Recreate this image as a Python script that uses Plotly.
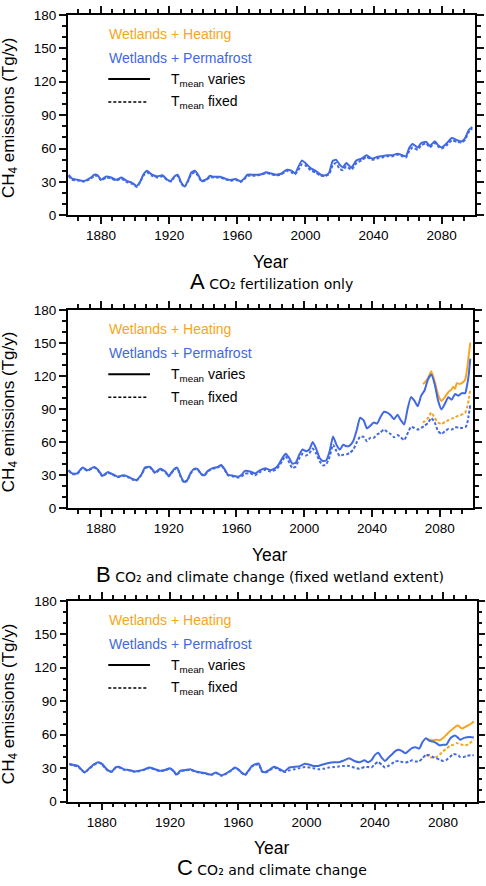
import plotly.graph_objects as go

# ---------------- data ----------------
A_years = [1861,1863,1866,1870,1874,1876,1878,1880,1883,1886,1889,1892,1895,1898,1901,1903,1905,1907,
           1910,1913,1916,1919,1921,1923,1925,1927,1929,1931,1933,1935,1937,1939,1942,1944,1946,1950,
           1953,1956,1959,1962,1964,1966,1970,1974,1977,1980,1983,1986,1989,1992,1994,1996,1998,2000,
           2003,2006,2009,2012,2014,2016,2018,2020,2022,2024,2027,2030,2033,2036,2039,2042,2045,2048,
           2051,2054,2057,2059,2061,2063,2066,2068,2071,2073,2076,2078,2080,2083,2086,2089,2092,2094,
           2096,2098]
A_perm_var = [36.5,33,32,31,34,36.5,36,32,35,34,32,34,31,29.5,26.5,30.5,37,40,
              36.5,35,36,32,31,35,36.5,29.7,26,31,38.5,40,36.5,31,32.6,35.6,34.7,34.7,
              33,31.8,32.6,30.6,33,36.5,36.5,37,38.8,37.6,36.5,37.6,41,40,37.6,44,49.4,47,
              42.4,40,36.5,36,38.5,48.8,50,45.9,43,47,43,49.4,51,54,51,52.4,53.2,54,
              54,55.3,54,53,60.6,64,61,65,66,62.4,66.5,63,61,64.7,69.4,67.6,66.5,70,
              76.8,79.4]
A_perm_fix = [35.5,32,31.5,30.5,33,35.5,35.5,31.5,34,33,31.5,33,30,28.5,25.5,30,36,38.5,
              35.5,34,35,31.5,30.5,34,35.5,29,25.5,30.5,37,38.5,35.5,30.5,32,34.5,34,34,
              32.5,31,32,30,32.5,35.5,35.5,36.5,38,37,36,37,40,38.5,37,41,46,45,
              40.5,38.5,35.5,35.5,37,45,47,42,40.5,44,41,47,49.5,52.5,50,51,52,53,
              53,54.5,53,52,58,61,59,63,64.5,61,65,62,60,63,67.5,66,65.5,68.5,
              75,78]

B_years = [1861,1863,1866,1869,1872,1876,1878,1881,1884,1887,1890,1893,1896,1899,1901,1904,1906,1909,
           1912,1915,1918,1920,1923,1925,1927,1929,1931,1933,1935,1937,1939,1941,1943,1946,1949,1951,
           1953,1955,1958,1961,1963,1965,1968,1971,1974,1977,1980,1983,1985,1987,1989,1991,1993,1995,
           1997,1999,2001,2003,2005,2007,2009,2011,2013,2015,2017,2019,2021,2023,2025,2027,2029,2031,
           2033,2035,2037,2039,2041,2043,2045,2047,2049,2051,2053,2055,2057,2059,2061,2063,2065,2067,
           2069,2071,2073,2075,2077,2079,2081,2083,2085,2087,2089,2091,2093,2095,2096,2097,2098]
B_perm_var = [34.7,31.7,31.7,37,34.7,37.6,35.6,29.6,32.9,31,28.8,30,28.8,26.4,25.8,31,37,37.6,
              32.6,35.9,33.5,29.4,35.3,37,29.6,24,25.8,32.3,35.9,35.9,31.7,30,34,36.5,37.6,39.4,
              35.6,30.5,29.6,28.8,30.5,34,33.5,31.7,34.7,36.5,34.7,36.5,40,45.4,49.5,46,40.6,41.5,
              48.3,53.4,51.9,53.4,60.2,54.3,46,43,43.6,51.9,65.2,57.8,53.4,57.8,56.3,57.2,61.4,71.2,
              82.2,80,72.6,75,78,77,83,87.5,86.9,84.5,81,85,80,76.2,90.4,101,97.8,92.8,
              102.3,107,117,121.5,112.7,97.8,89.8,94.9,100.8,98.7,103.8,102.3,104.6,104.6,111,120,136]
B_perm_fix = [34.2,31.2,31.2,36.5,34.2,37,35,29,32.4,30.5,28.3,29.5,28.3,26,25.3,30.5,36.5,37,
              32,35.4,33,29,34.8,36.5,29,23.5,25.3,31.8,35.4,35.4,31.2,29.5,33.5,36,37,38.8,
              35,30,29,28,29,31.5,32,30,33,35,33.5,35,38,43,47.5,42,36.5,38,
              45,49.5,48,50,54.3,50,43,39,40,47,57.8,52,47.5,48.7,49,50.5,53.5,60,
              65.2,65,61,64,64,67,69,71.5,69.5,67.5,64.5,66.5,64.5,62,68,74,73,71.5,
              73,75,77.5,82,78,70,67.5,70,72,71.5,73.5,73.5,73,73.5,76,84,94]
B_heat_years = [2070,2071,2073,2075,2077,2079,2081,2083,2085,2087,2088,2089,2090,2092,2094,2095,2096,2097,2098]
B_heat_var = [113,114,118,124.5,115,103,97.5,101,105.5,108,110.5,108.5,113.5,113,115,117,125,138,150.5]
B_heat_fix = [78,79,82,87,82,78,76.5,78.5,80,81.5,82,82.5,83.5,84.5,86,87,91,98,108.5]

C_years = [1861,1863,1866,1868,1870,1872,1875,1878,1880,1882,1884,1886,1888,1890,1893,1896,1899,1902,
           1905,1908,1911,1914,1917,1920,1922,1924,1926,1929,1932,1935,1938,1941,1944,1947,1950,1953,
           1956,1958,1960,1962,1964,1966,1968,1970,1972,1974,1976,1978,1981,1984,1987,1990,1993,1996,
           1999,2002,2004,2007,2010,2013,2016,2019,2022,2025,2028,2031,2034,2036,2038,2040,2042,2044,
           2046,2048,2050,2052,2054,2056,2058,2060,2062,2064,2066,2068,2070,2072,2074,2076,2078,2080,
           2082,2084,2086,2087,2089,2090,2092,2094,2096,2098]
C_perm_var = [34,33,32,28.9,26.2,28.9,33,35.3,34,30.6,27.7,27.1,30.6,31.2,28.9,28.3,27.1,27.7,
              28.9,30.6,29.2,27.7,28.3,30,27.7,24.2,27.7,28.3,28.9,27.1,26.2,25.4,24.2,26,23.6,25.4,
              28.3,30.6,28.9,26,24.2,27.7,32,33.5,34,27.1,26.5,28.3,31.2,29.4,27.1,30.6,31.2,31.8,
              34,33,32,32,33.5,34.7,35.3,35.3,37,38.8,36.4,35.3,37,35.3,37,41.7,43.7,39.4,
              36.4,39.4,42.3,45.2,46.4,45.2,43.4,45.8,48.1,48.7,47.5,53.4,56.9,54.5,53.9,52.5,50.4,51,
              51,56.3,58.6,59.2,56.9,55.4,56.9,57.7,58,57.4]
C_perm_fix = [33.5,32.5,31.5,28.5,26,28.5,32.5,35,33.5,30,27.2,26.8,30,30.7,28.5,28,26.8,27.3,
              28.5,30.2,28.8,27.3,28,29.6,27.3,23.8,27.3,27.9,28.5,26.7,25.8,25,23.8,25.6,23.2,25,
              27.9,30.2,28.5,25.6,23.8,27.3,31.5,33,33.5,26.7,26,27.8,30.5,28.5,26.5,28,29,30,
              31,30.5,30,29,29.5,30.5,31,31.5,32,32,30.5,29.5,31,31,30.5,33.5,35.5,33,
              30.5,32,34,36,36.5,35.5,35,36,37,36,36,39,42,41.5,40,39,37.5,36.5,
              37.5,40,42.5,42.5,41.5,40,40,41,41.5,41.5]
C_heat_years = [2070,2072,2074,2076,2078,2080,2082,2084,2086,2088,2089,2091,2093,2095,2097,2098]
C_heat_var = [56.5,55.5,55,55.5,55,57,60,63,65.5,68,68,65.5,67,68.5,70.5,72]
C_heat_fix = [42,40,39.5,40,42,45,47.5,50,51,52.5,52,51,50.5,51.5,54,55.5]

y_ticks = [0, 30, 60, 90, 120, 150, 180]
x_ticks = [1880, 1920, 1960, 2000, 2040, 2080]

captions = [("A", "CO₂ fertilization only"),
            ("B", "CO₂ and climate change (fixed wetland extent)"),
            ("C", "CO₂ and climate change")]

# ---------------- styling ----------------
ORANGE = "#F7A520"
BLUE = "#4169E1"
FONT = "Liberation Sans, Arial, sans-serif"
CAPFONT = "DejaVu Sans, sans-serif"
W, H = 486, 886
XRANGE = [1860.4, 2099.6]
YRANGE = [0, 180]

boxes = [(67.7, 475.0, 8.0, 212.0), (67.7, 473.0, 308.3, 510.0), (68.3, 476.5, 604.0, 808.3)]

panels = [
    (A_years, A_perm_var, A_perm_fix, None, None, None),
    (B_years, B_perm_var, B_perm_fix, B_heat_years, B_heat_var, B_heat_fix),
    (C_years, C_perm_var, C_perm_fix, C_heat_years, C_heat_var, C_heat_fix),
]

fig = go.Figure()
annotations = []
shapes = []
layout = {}

for i, (box, pdata, cap) in enumerate(zip(boxes, panels, captions)):
    n = "" if i == 0 else str(i + 1)
    xa, ya = "x" + n, "y" + n
    l, r, t, b = box
    yrs, pv, pf, hy, hv, hf = pdata
    line_kw = dict(shape="spline", smoothing=0.5, width=2)
    if hy is not None:
        fig.add_trace(go.Scatter(x=hy, y=hf, mode="lines", xaxis=xa, yaxis=ya, hoverinfo="skip",
                                 line=dict(color=ORANGE, dash="3px,2px", **line_kw), showlegend=False))
        fig.add_trace(go.Scatter(x=hy, y=hv, mode="lines", xaxis=xa, yaxis=ya, hoverinfo="skip",
                                 line=dict(color=ORANGE, **line_kw), showlegend=False))
    fig.add_trace(go.Scatter(x=yrs, y=pf, mode="lines", xaxis=xa, yaxis=ya, hoverinfo="skip",
                             line=dict(color=BLUE, dash="3px,2px", **line_kw), showlegend=False))
    fig.add_trace(go.Scatter(x=yrs, y=pv, mode="lines", xaxis=xa, yaxis=ya, hoverinfo="skip",
                             line=dict(color=BLUE, **line_kw), showlegend=False))

    xdom = [l / W, r / W]
    ydom = [1 - b / H, 1 - t / H]
    layout["xaxis" + n] = dict(
        domain=xdom, anchor=ya, range=XRANGE, tickvals=x_ticks,
        ticks="outside", ticklen=7, tickwidth=2, tickcolor="#111111",
        showline=True, linecolor="black", linewidth=1.5, mirror="allticks",
        tickfont=dict(family=FONT, size=13.5, color="black"),
        minor=dict(tick0=1860, dtick=20 / 3, ticks="outside", ticklen=4, tickcolor="#111111"))
    layout["yaxis" + n] = dict(
        domain=ydom, anchor=xa, range=YRANGE, tickvals=y_ticks,
        ticks="outside", ticklen=7, tickwidth=2, tickcolor="#111111",
        showline=True, linecolor="black", linewidth=1.5, mirror="allticks",
        tickfont=dict(family=FONT, size=13.5, color="black"),
        minor=dict(dtick=10, ticks="outside", ticklen=4, tickcolor="#111111"))

    xd, yd = xa + " domain", ya + " domain"
    cx = (l + r) / 2 / W
    annotations.append(dict(xref="paper", yref="paper", x=10 / W, y=1 - ((t + b) / 2 + 3) / H,
                            text="CH<sub>4</sub> emissions (Tg/y)", textangle=-90, showarrow=False,
                            font=dict(family=FONT, size=17, color="black"),
                            xanchor="center", yanchor="middle"))
    annotations.append(dict(xref="paper", yref="paper", x=cx, y=1 - (b + 47) / H,
                            text="Year", showarrow=False,
                            font=dict(family=FONT, size=17.5, color="black"),
                            xanchor="center", yanchor="middle"))
    annotations.append(dict(xref="paper", yref="paper", x=cx, y=1 - (b + 67) / H,
                            text=('<span style="font-family:Liberation Sans, Arial; font-size:22px">'
                                  + cap[0] + '</span> ' + cap[1]),
                            showarrow=False, font=dict(family=CAPFONT, size=14, color="black"),
                            xanchor="center", yanchor="middle"))
    ph = b - t
    leg_x = (108.3 - l) / (r - l)
    annotations.append(dict(xref=xd, yref=yd, x=leg_x - 0.004, y=1 - 19.7 / ph, text="Wetlands + Heating",
                            showarrow=False, xanchor="left", yanchor="middle",
                            font=dict(family=FONT, size=14, color=ORANGE)))
    annotations.append(dict(xref=xd, yref=yd, x=leg_x - 0.004, y=1 - 43.7 / ph, text="Wetlands + Permafrost",
                            showarrow=False, xanchor="left", yanchor="middle",
                            font=dict(family=FONT, size=14, color=BLUE)))
    txt_x = (169 - l) / (r - l)
    annotations.append(dict(xref=xd, yref=yd, x=txt_x, y=1 - 66 / ph, text="T<sub>mean</sub> varies",
                            showarrow=False, xanchor="left", yanchor="middle",
                            font=dict(family=FONT, size=14, color="black")))
    annotations.append(dict(xref=xd, yref=yd, x=txt_x, y=1 - 89 / ph, text="T<sub>mean</sub> fixed",
                            showarrow=False, xanchor="left", yanchor="middle",
                            font=dict(family=FONT, size=14, color="black")))
    shapes.append(dict(type="line", xref=xd, yref=yd, x0=leg_x, x1=(150 - l) / (r - l),
                       y0=1 - 65.3 / ph, y1=1 - 65.3 / ph, line=dict(color="black", width=2)))
    shapes.append(dict(type="line", xref=xd, yref=yd, x0=leg_x, x1=(148 - l) / (r - l),
                       y0=1 - 88.7 / ph, y1=1 - 88.7 / ph,
                       line=dict(color="black", width=1.5, dash="3px,2px")))

fig.update_layout(width=W, height=H, margin=dict(l=0, r=0, t=0, b=0),
                  plot_bgcolor="white", paper_bgcolor="white",
                  annotations=annotations, shapes=shapes, showlegend=False, **layout)

fig.write_html("out.html", config={"displayModeBar": False},
               post_script="document.body.style.margin='0px';document.body.style.overflow='hidden';")
